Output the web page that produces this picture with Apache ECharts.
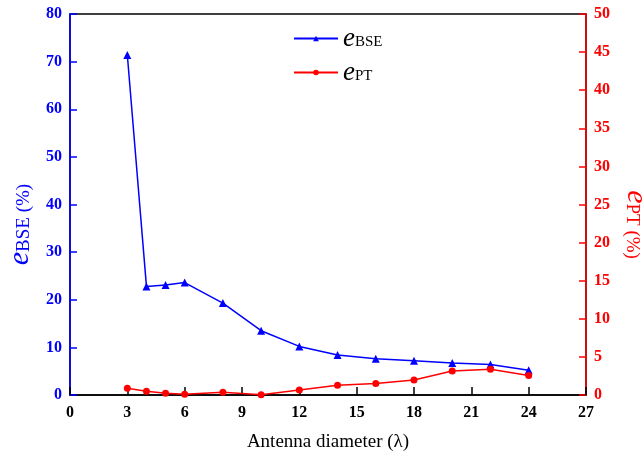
<!DOCTYPE html>
<html>
<head>
<meta charset="utf-8">
<script src="https://cdn.jsdelivr.net/npm/echarts@6/dist/echarts.min.js"></script>
<style>
  html, body { margin: 0; padding: 0; background: #fff; }
  #main { width: 644px; height: 462px; }
</style>
</head>
<body>
<div id="main"></div>
<script>
// antenna diameter (lambda)
var diameters = [3, 4, 5, 6, 8, 10, 12, 14, 16, 18, 20, 22, 24];
// e_BSE (%) - left axis
var eBSE = [71.4, 22.8, 23.1, 23.6, 19.3, 13.5, 10.2, 8.4, 7.6, 7.2, 6.7, 6.4, 5.2];
// e_PT (%) - right axis
var ePT = [0.88, 0.5, 0.24, 0.1, 0.36, 0.02, 0.66, 1.27, 1.5, 1.98, 3.15, 3.38, 2.55];

var serif = 'Liberation Serif';

function pairs(xs, ys) {
    return xs.map(function (x, i) { return [x, ys[i]]; });
}

var myChart = echarts.init(document.getElementById('main'));

var option = {
    backgroundColor: '#fff',
    animation: false,
    grid: {
        left: 70,
        right: 58,
        top: 14,
        bottom: 67,
        outerBoundsMode: 'none',
        containLabel: false,
        show: true,
        borderColor: '#000',
        borderWidth: 1.5
    },
    legend: {
        orient: 'vertical',
        left: 288,
        top: 20,
        itemWidth: 44,
        itemHeight: 7,
        itemGap: 7,
        data: ['eBSE', 'ePT'],
        formatter: function (name) {
            return '{e|e}{s|' + name.substring(1) + '}';
        },
        textStyle: {
            rich: {
                e: { fontFamily: serif, fontStyle: 'italic', fontSize: 27, color: '#000' },
                s: { fontFamily: serif, fontSize: 15, color: '#000', padding: [8, 0, 0, 0] }
            }
        }
    },
    xAxis: {
        type: 'value',
        min: 0,
        max: 27,
        interval: 3,
        name: 'Antenna diameter (λ)',
        nameLocation: 'middle',
        nameGap: 38,
        nameTextStyle: { fontFamily: serif, fontSize: 19, color: '#000' },
        axisLine: { onZero: false, lineStyle: { color: '#000', width: 1.5 } },
        axisTick: { inside: true, length: 8, lineStyle: { color: '#000', width: 1.5 } },
        axisLabel: { fontFamily: serif, fontWeight: 'bold', fontSize: 16, color: '#000', margin: 10 },
        splitLine: { show: false }
    },
    yAxis: [
        {
            type: 'value',
            min: 0,
            max: 80,
            interval: 10,
            position: 'left',
            name: '{e|e}{s|BSE (%)}',
            nameLocation: 'middle',
            nameRotate: 90,
            nameGap: 32,
            nameTextStyle: {
                padding: [0, 40, 0, 0],
                rich: {
                    e: { fontFamily: serif, fontStyle: 'italic', fontSize: 30, color: '#0000ff' },
                    s: { fontFamily: serif, fontSize: 19, color: '#0000ff', padding: [8, 0, 0, 0] }
                }
            },
            axisLine: { show: true, lineStyle: { color: '#0000ff', width: 1.5 } },
            axisTick: { inside: true, length: 7, lineStyle: { color: '#0000ff', width: 1.5 } },
            axisLabel: { fontFamily: serif, fontWeight: 'bold', fontSize: 16, color: '#0000ff', margin: 8 },
            splitLine: { show: false }
        },
        {
            type: 'value',
            min: 0,
            max: 50,
            interval: 5,
            position: 'right',
            name: '{e|e}{s|PT (%)}',
            nameLocation: 'middle',
            nameRotate: -90,
            nameGap: 30,
            nameTextStyle: {
                padding: [0, 0, 0, 40],
                rich: {
                    e: { fontFamily: serif, fontStyle: 'italic', fontSize: 30, color: '#ff0000' },
                    s: { fontFamily: serif, fontSize: 19, color: '#ff0000', padding: [8, 0, 0, 0] }
                }
            },
            axisLine: { show: true, lineStyle: { color: '#ff0000', width: 1.5 } },
            axisTick: { inside: true, length: 7, lineStyle: { color: '#ff0000', width: 1.5 } },
            axisLabel: { fontFamily: serif, fontWeight: 'bold', fontSize: 16, color: '#ff0000', margin: 8 },
            splitLine: { show: false }
        }
    ],
    series: [
        {
            name: 'eBSE',
            type: 'line',
            yAxisIndex: 0,
            symbol: 'triangle',
            symbolSize: 8,
            color: '#0000ff',
            lineStyle: { color: '#0000ff', width: 1.5 },
            itemStyle: { color: '#0000ff' },
            data: pairs(diameters, eBSE)
        },
        {
            name: 'ePT',
            type: 'line',
            yAxisIndex: 1,
            symbol: 'circle',
            symbolSize: 7,
            color: '#ff0000',
            lineStyle: { color: '#ff0000', width: 1.5 },
            itemStyle: { color: '#ff0000' },
            data: pairs(diameters, ePT)
        }
    ]
};

myChart.setOption(option);

window.addEventListener('resize', function () {
    myChart.resize();
});
</script>
</body>
</html>
